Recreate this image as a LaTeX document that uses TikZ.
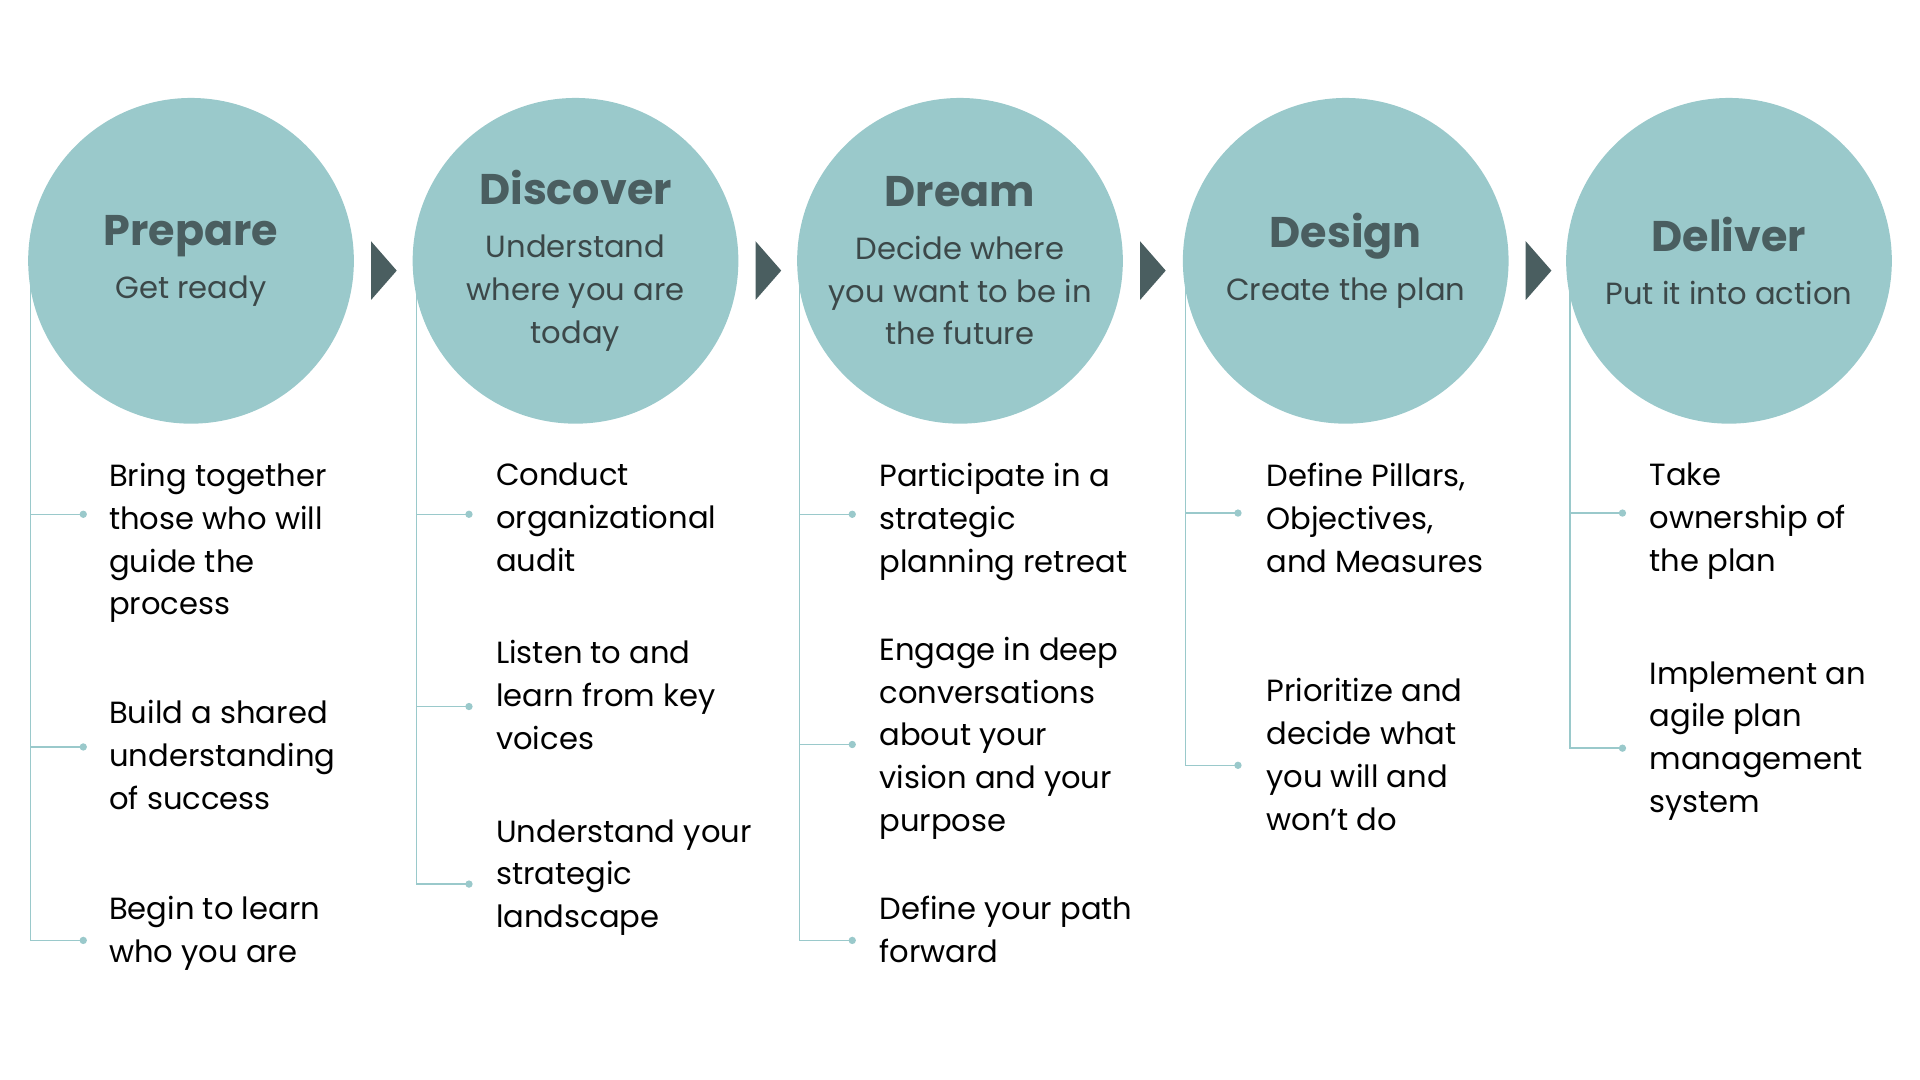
\documentclass[tikz,border=0pt]{standalone}
\usepackage{fontspec}
\setmainfont{Poppins}
\usetikzlibrary{positioning}
\definecolor{stagefill}{HTML}{9AC9CB}
\definecolor{stagedark}{HTML}{4A5E60}
\definecolor{subtext}{HTML}{3C4849}
\tikzset{
  stage/.style={circle,fill=stagefill,minimum size=266pt,inner sep=0pt,align=center,text=subtext,
    font=\fontsize{25}{35}\selectfont},
  chevron/.style={fill=stagedark},
  stem/.style={draw=stagefill,line width=1.2pt},
  dot/.style={circle,fill=stagefill,inner sep=0pt,minimum size=6pt},
  item/.style={anchor=north west,inner sep=0pt,align=left,text=black,font=\fontsize{25}{35}\selectfont}
}
\newcommand{\ttl}[1]{{\fontsize{35}{35}\selectfont\bfseries\color{stagedark}#1}\\[8pt]}
\begin{document}
\begin{tikzpicture}[x=1pt,y=-1pt]
  \useasboundingbox (0,0) rectangle (1568,882);
  % stems behind circles
  \coordinate (s1) at (25,230);
  \coordinate (s2) at (340,230);
  \coordinate (s3) at (653,230);
  \coordinate (s4) at (968,230);
  \coordinate (s5) at (1282,230);
  % bullet dots
  \node[dot] (d11) at (68,420) {};
  \node[dot] (d12) at (68,610) {};
  \node[dot] (d13) at (68,768) {};
  \node[dot] (d21) at (383,420) {};
  \node[dot] (d22) at (383,577) {};
  \node[dot] (d23) at (383,722) {};
  \node[dot] (d31) at (696,420) {};
  \node[dot] (d32) at (696,608) {};
  \node[dot] (d33) at (696,768) {};
  \node[dot] (d41) at (1011,419) {};
  \node[dot] (d42) at (1011,625) {};
  \node[dot] (d51) at (1325,419) {};
  \node[dot] (d52) at (1325,611) {};
  \draw[stem] (s1) |- (d13.center);
  \draw[stem] (s1 |- d11) -- (d11.center);
  \draw[stem] (s1 |- d12) -- (d12.center);
  \draw[stem] (s2) |- (d23.center);
  \draw[stem] (s2 |- d21) -- (d21.center);
  \draw[stem] (s2 |- d22) -- (d22.center);
  \draw[stem] (s3) |- (d33.center);
  \draw[stem] (s3 |- d31) -- (d31.center);
  \draw[stem] (s3 |- d32) -- (d32.center);
  \draw[stem] (s4) |- (d42.center);
  \draw[stem] (s4 |- d41) -- (d41.center);
  \draw[stem] (s5) |- (d52.center);
  \draw[stem] (s5 |- d51) -- (d51.center);
  % stage circles
  \node[stage] (prepare) at (156,213) {\ttl{Prepare}Get ready};
  \node[stage] (discover) at (470,213) {\ttl{Discover}Understand\\where you are\\today};
  \node[stage] (dream) at (784,213) {\ttl{Dream}Decide where\\you want to be in\\the future};
  \node[stage] (design) at (1099,213) {\ttl{Design}Create the plan};
  \node[stage] (deliver) at (1412,213) {\ttl{Deliver}Put it into action};
  % chevrons
  \foreach \c in {prepare,discover,dream,design}
    \fill[chevron] ([shift={(147,-16)}]\c.center) -- ++(21,24) -- ++(-21,24) -- cycle;
  % items
  \node[item] (t11) at (89,378) {Bring together\\those who will\\guide the\\process};
  \node[item] (t12) at (89,572) {Build a shared\\understanding\\of success};
  \node[item] (t13) at (89,732) {Begin to learn\\who you are};
  \node[item] (t21) at (405,378) {Conduct\\organizational\\audit};
  \node[item] (t22) at (405,523) {Listen to and\\learn from key\\voices};
  \node[item] (t23) at (405,669) {Understand your\\strategic\\landscape};
  \node[item] (t31) at (718,378) {Participate in a\\strategic\\planning retreat};
  \node[item] (t32) at (718,520) {Engage in deep\\conversations\\about your\\vision and your\\purpose};
  \node[item] (t33) at (718,732) {Define your path\\forward};
  \node[item] (t41) at (1034,378) {Define Pillars,\\Objectives,\\and Measures};
  \node[item] (t42) at (1034,554) {Prioritize and\\decide what\\you will and\\won’t do};
  \node[item] (t51) at (1347,378) {Take\\ownership of\\the plan};
  \node[item] (t52) at (1347,540) {Implement an\\agile plan\\management\\system};
\end{tikzpicture}
\end{document}
